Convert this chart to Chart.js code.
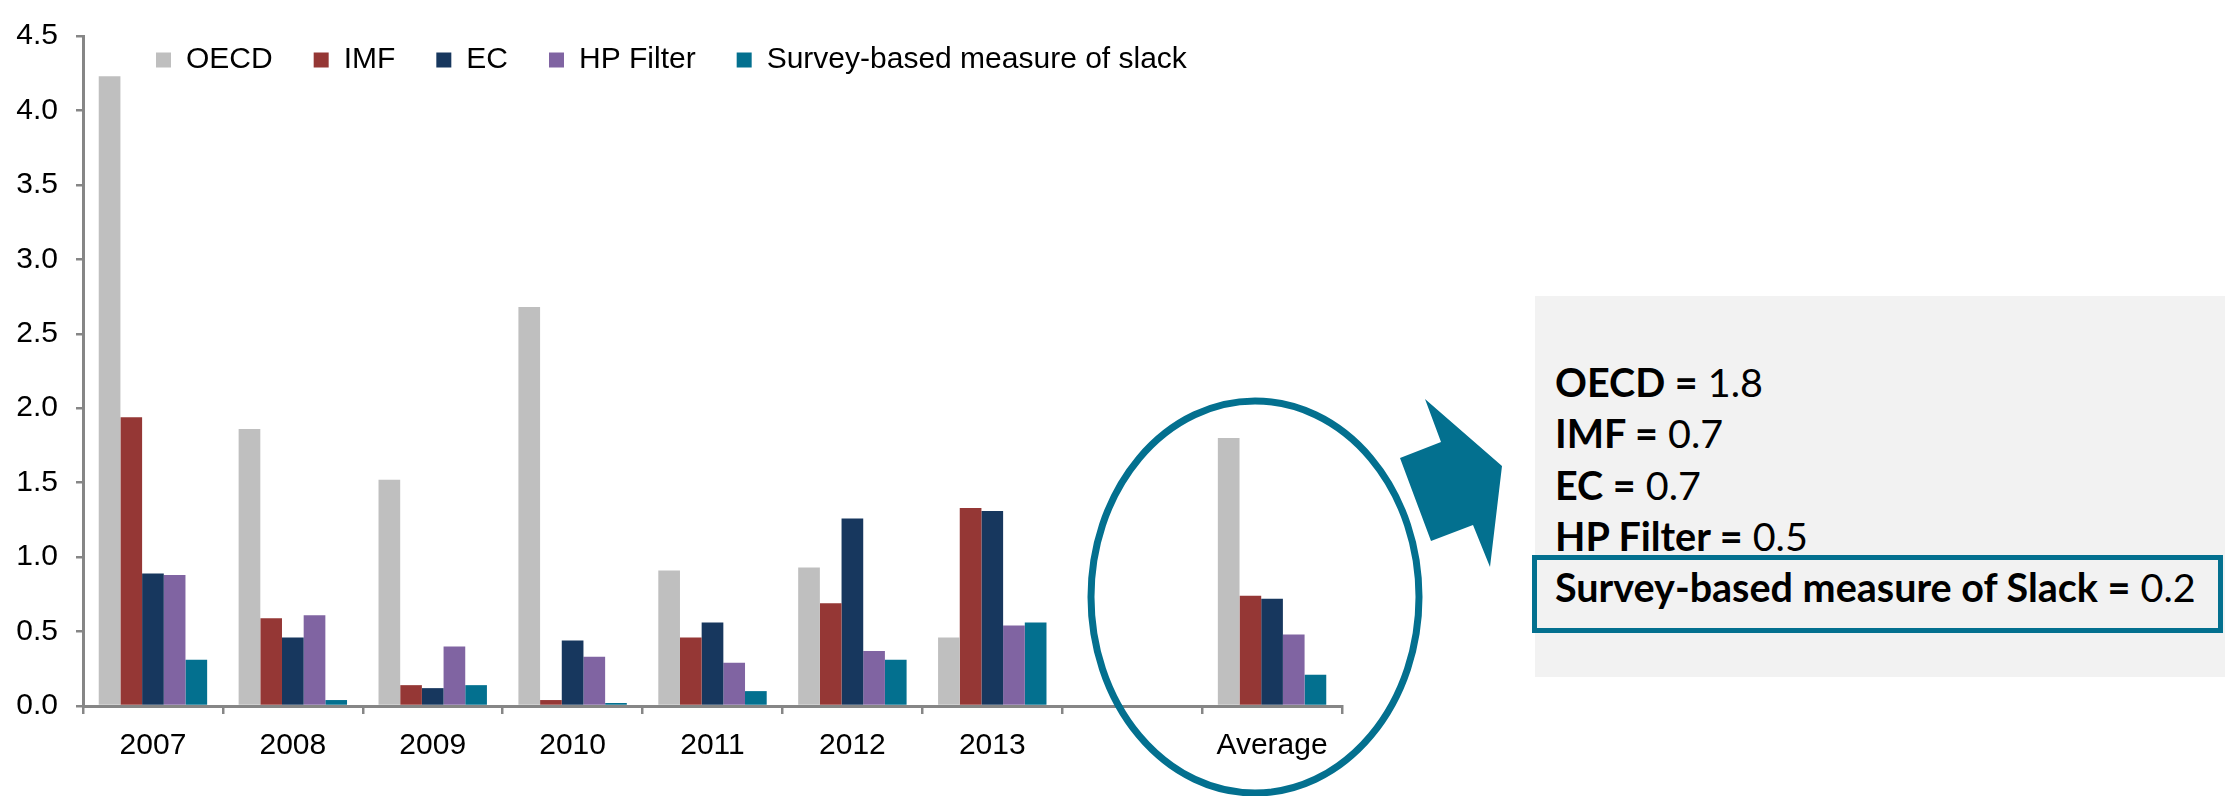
<!DOCTYPE html>
<html>
<head>
<meta charset="utf-8">
<script src="https://cdn.jsdelivr.net/npm/chart.js@4/dist/chart.umd.min.js"></script>
<style>
  body { margin: 0; background: #fff; }
  #wrap { position: relative; width: 2225px; height: 796px; }
  #chart { position: absolute; left: 0; top: 0; }
  #ann { position: absolute; left: 0; top: 0; pointer-events: none; }
</style>
</head>
<body>
<div id="wrap">
  <canvas id="chart" width="2225" height="796"></canvas>
  <svg id="ann" width="2225" height="796">
    <ellipse cx="1255" cy="597" rx="164" ry="196" fill="none" stroke="#03708F" stroke-width="7"/>
    <polygon points="1425,399 1502,466 1490,567 1473,525 1431,541 1400,458 1441,442" fill="#03708F"/>
    <rect x="1535" y="296" width="690" height="381" fill="#F2F2F2"/>
    <g font-family="Lato, 'Open Sans', sans-serif" font-size="39.5" fill="#000">
      <text x="1555" y="397"><tspan font-weight="bold">OECD =</tspan> 1.8</text>
      <text x="1555" y="448"><tspan font-weight="bold">IMF =</tspan> 0.7</text>
      <text x="1555" y="500"><tspan font-weight="bold">EC =</tspan> 0.7</text>
      <text x="1555" y="551"><tspan font-weight="bold">HP Filter =</tspan> 0.5</text>
      <text x="1555" y="602"><tspan font-weight="bold">Survey-based measure of Slack =</tspan> 0.2</text>
    </g>
    <rect x="1534.5" y="557.5" width="686" height="73" fill="none" stroke="#03708F" stroke-width="5"/>
  </svg>
</div>
<script>
const categories = ['2007', '2008', '2009', '2010', '2011', '2012', '2013', '', 'Average'];
const oecd   = [4.23, 1.86, 1.52, 2.68, 0.91, 0.93, 0.46, null, 1.80];
const imf    = [1.94, 0.59, 0.14, 0.04, 0.46, 0.69, 1.33, null, 0.74];
const ec     = [0.89, 0.46, 0.12, 0.44, 0.56, 1.26, 1.31, null, 0.72];
const hp     = [0.88, 0.61, 0.40, 0.33, 0.29, 0.37, 0.54, null, 0.48];
const survey = [0.31, 0.04, 0.14, 0.02, 0.10, 0.31, 0.56, null, 0.21];
const yTicks = [0, 0.5, 1, 1.5, 2, 2.5, 3, 3.5, 4, 4.5];

const font = "'Liberation Sans', Arial, sans-serif";
const axisGrey = '#868686';

// legend sits inside the plot like the original, so it takes no layout space
const legendPin = {
  id: 'legendPin',
  beforeLayout(chart) {
    const lg = chart.legend;
    if (lg && !lg._pinned) {
      const fit = lg.fit;
      lg.fit = function () { fit.call(this); this.height = 0; };
      lg._pinned = true;
    }
  },
  afterLayout(chart) {
    const lg = chart.legend;
    const pad = lg.options.labels.padding;
    lg.left = 156 - pad;
    lg.right = 1400;
    lg.top = 60 - 15 - pad;
    lg.bottom = lg.top + 120;
  }
};

new Chart(document.getElementById('chart'), {
  type: 'bar',
  data: {
    labels: categories,
    datasets: [
      { label: 'OECD', data: oecd, backgroundColor: '#BFBFBF' },
      { label: 'IMF', data: imf, backgroundColor: '#953735' },
      { label: 'EC', data: ec, backgroundColor: '#17375E' },
      { label: 'HP Filter', data: hp, backgroundColor: '#8064A2' },
      { label: 'Survey-based measure of slack', data: survey, backgroundColor: '#03708F' }
    ]
  },
  options: {
    responsive: false,
    animation: false,
    categoryPercentage: 0.775,
    barPercentage: 1.0,
    layout: { padding: { left: 0, top: 20, right: 883, bottom: 0 } },
    plugins: {
      tooltip: { enabled: false },
      legend: {
        position: 'top',
        align: 'start',
        labels: {
          boxWidth: 15,
          boxHeight: 15,
          padding: 41,
          color: '#000',
          font: { family: font, size: 30 }
        }
      }
    },
    scales: {
      x: {
        grid: { drawOnChartArea: false, drawTicks: true, tickLength: 8, color: axisGrey, lineWidth: 2.5, offset: true },
        border: { color: axisGrey, width: 3 },
        ticks: { color: '#000', font: { family: font, size: 30 }, padding: 14, maxRotation: 0, autoSkip: false },
        afterFit: s => { s.height = 90; }
      },
      y: {
        min: 0,
        max: 4.5,
        afterBuildTicks: s => { s.ticks = yTicks.map(v => ({ value: v })); },
        grid: { drawOnChartArea: false, drawTicks: true, tickLength: 7, color: axisGrey, lineWidth: 2.5 },
        border: { color: axisGrey, width: 3 },
        ticks: { color: '#000', font: { family: font, size: 30 }, padding: 18, callback: v => v.toFixed(1) },
        afterFit: s => { s.width = 83; }
      }
    }
  },
  plugins: [legendPin]
});
</script>
</body>
</html>
